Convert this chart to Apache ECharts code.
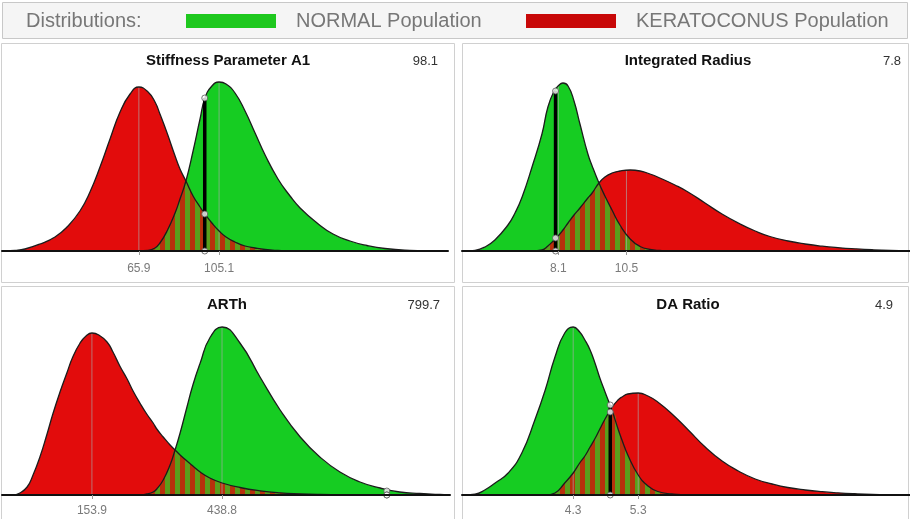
<!DOCTYPE html>
<html><head><meta charset="utf-8">
<script src="https://cdn.jsdelivr.net/npm/echarts@6/dist/echarts.min.js"></script>
<style>html,body{margin:0;padding:0;background:#fff;}#c{width:910px;height:519px;}</style>
</head><body><div id="c"></div>
<script>
// ---------- data ----------
const legendLabels = ['NORMAL Population', 'KERATOCONUS Population'];
const panelTitles = ['Stiffness Parameter A1', 'Integrated Radius', 'ARTh', 'DA Ratio'];
const patientValues = ['98.1', '7.8', '799.7', '4.9'];
const tickValues = [[65.9, 105.1], [8.1, 10.5], [153.9, 438.8], [4.3, 5.3]];
const meanHeights = [[164, 169], [165, 81], [162, 168], [168, 102]];
const cutoffX = [98.1, 8.0, 799.7, 4.87];
const cutoffNormal = [153, 160, 4, 90];
const cutoffKc = [37, 13, 0, 83];

// Stiffness Parameter A1
const a1X = [0.5, 5.4, 10.2, 17.6, 24.9, 30.8, 37.1, 42.0, 46.9, 51.8, 56.7, 61.6, 65.9, 70.4, 73.8, 76.2, 79.7, 83.6, 86.0, 88.9, 92.4, 95.8, 98.2, 101.6, 105.1, 108.5, 112.9, 117.8, 122.7, 127.6, 133.9, 139.8, 144.7, 153.0, 160.8, 169.1, 177.4, 186.2, 198.4, 213.1];
const a1Normal = [0, 0, 0, 0, 0, 0, 0, 0, 0, 0, 0, 0, 0, 0.5, 3, 8, 20, 38, 52, 70, 100, 132, 153, 165, 169, 167, 158, 140, 118, 96, 72, 55, 43, 28, 17, 10, 5.5, 2.5, 0.7, 0];
const a1Kc = [0, 0.5, 2, 7, 14, 24, 40, 59, 84, 112, 139, 157, 164, 159, 149, 137, 118, 95, 82, 70, 55, 44, 37, 28, 20, 14, 9, 5, 3, 1.5, 0.5, 0, 0, 0, 0, 0, 0, 0, 0, 0];

// Integrated Radius
const irX = [4.81, 5.16, 5.51, 5.86, 6.32, 6.57, 6.82, 7.17, 7.52, 7.73, 7.95, 8.09, 8.26, 8.44, 8.65, 8.86, 9.14, 9.29, 9.53, 9.74, 9.99, 10.27, 10.63, 10.98, 11.33, 11.68, 12.21, 12.67, 13.27, 13.87, 14.51, 15.04, 15.56, 16.20, 16.80, 17.40, 18.03, 18.56, 19.16, 19.80, 20.43];
const irNormal = [0, 0.7, 4, 11, 26, 38, 54, 84, 117, 144, 160, 165, 168, 165, 150, 127, 97, 85, 68, 55, 41, 26, 12, 4.5, 1.5, 0.5, 0, 0, 0, 0, 0, 0, 0, 0, 0, 0, 0, 0, 0, 0, 0];
const irKc = [0, 0, 0, 0, 0, 0, 0, 0, 1, 5, 11, 15, 21, 28, 36, 43, 53, 58, 68, 74, 78, 80, 81, 80, 77, 73, 66, 59, 48, 37, 27, 20, 14.5, 10, 7, 4.8, 3.2, 2.2, 1.3, 0.6, 0.2];

// ARTh
const arthX = [-36, -19, -4, 12, 25, 40, 55, 69, 84, 99, 112, 128, 141, 154, 169, 187, 200, 215, 231, 244, 259, 274, 288, 296, 310, 325, 336, 347, 362, 375, 391, 412, 439, 478, 522, 566, 610, 653, 697, 741, 785, 828, 872, 916, 934];
const arthNormal = [0, 0, 0, 0, 0, 0, 0, 0, 0, 0, 0, 0, 0, 0, 0, 0, 0, 0, 0, 0, 0, 1, 3, 6, 15, 30, 45, 62, 88, 110, 132, 157, 168, 152, 118, 85, 58, 38, 23, 13, 7, 3, 1.5, 0.5, 0.3];
const arthKc = [0, 0, 2, 8, 20, 38, 60, 82, 103, 122, 138, 152, 159, 162, 160, 153, 143, 129, 116, 104, 92, 81, 72, 66, 58, 50, 45, 40, 34, 29, 23, 17, 12, 7.5, 4.2, 2.2, 1.2, 0.6, 0.3, 0, 0, 0, 0, 0, 0];

// DA Ratio
const daX = [2.64, 2.79, 2.94, 3.10, 3.30, 3.51, 3.71, 3.87, 4.02, 4.17, 4.30, 4.40, 4.48, 4.56, 4.64, 4.71, 4.79, 4.90, 4.99, 5.05, 5.14, 5.30, 5.45, 5.60, 5.82, 6.07, 6.33, 6.59, 6.84, 7.10, 7.36, 7.60, 7.87, 8.13, 8.37, 8.63, 8.90, 9.17, 9.45];
const daNormal = [0, 0.8, 5, 12, 22, 42, 75, 105, 138, 162, 168, 163, 155, 145, 131, 117, 103, 84, 66, 55, 40, 20, 9, 3.5, 1, 0, 0, 0, 0, 0, 0, 0, 0, 0, 0, 0, 0, 0, 0];
const daKc = [0, 0, 0, 0, 0, 0, 0, 0, 2, 12, 22, 32, 39, 48, 57, 66, 76, 88, 95, 98, 101, 102, 99, 93, 81, 65, 48, 34, 24, 16, 11, 7.5, 5, 3.3, 2.2, 1.3, 0.6, 0.2, 0];

// ---------- layout / style ----------
const FONT = '"Liberation Sans", Arial, sans-serif';
const GREEN = '#16cc22';
const RED = '#e20c0c';
const panels = [
  {x: a1X, n: a1Normal, k: a1Kc, min: -1, max: 217, grid: {left: 2, top: 51, width: 446, height: 200}, lm: 12},
  {x: irX, n: irNormal, k: irKc, min: 4.7, max: 20.5, grid: {left: 462, top: 51, width: 448, height: 200}, lm: 12},
  {x: arthX, n: arthNormal, k: arthKc, min: -43, max: 938, grid: {left: 2, top: 295, width: 448, height: 200}, lm: 10},
  {x: daX, n: daNormal, k: daKc, min: 2.59, max: 9.48, grid: {left: 462, top: 295, width: 448, height: 200}, lm: 10}
];

// hatch pattern for the overlap region
const pc = document.createElement('canvas');
pc.width = 10; pc.height = 10;
const g2 = pc.getContext('2d');
g2.fillStyle = '#5a9e1c'; g2.fillRect(0, 0, 10, 10);
g2.fillStyle = '#b8300c'; g2.fillRect(0, 0, 5, 10);

const grids = [], xAxes = [], yAxes = [], series = [];
panels.forEach((p, i) => {
  grids.push(p.grid);
  xAxes.push({
    gridIndex: i, type: 'value', min: p.min, max: p.max, z: 10,
    axisLine: {show: true, onZero: false, lineStyle: {color: '#111', width: 2}},
    axisTick: {show: true, customValues: tickValues[i], length: 4, lineStyle: {color: '#999'}},
    axisLabel: {customValues: tickValues[i], formatter: v => Number(v).toFixed(1), color: '#7a7a7a', fontSize: 12, fontFamily: FONT, margin: p.lm},
    splitLine: {show: false}
  });
  yAxes.push({gridIndex: i, type: 'value', min: 0, max: 200, show: false});
  const base = {type: 'line', xAxisIndex: i, yAxisIndex: i, smooth: 0.5, symbol: 'none', silent: true};
  const nd = p.x.map((x, j) => [x, p.n[j]]);
  const kd = p.x.map((x, j) => [x, p.k[j]]);
  const od = p.x.map((x, j) => [x, Math.min(p.n[j], p.k[j])]);
  series.push(Object.assign({}, base, {data: kd, lineStyle: {width: 0}, areaStyle: {color: RED, opacity: 1}, z: 2}));
  series.push(Object.assign({}, base, {data: nd, lineStyle: {width: 0}, areaStyle: {color: GREEN, opacity: 1}, z: 2}));
  series.push(Object.assign({}, base, {data: od, lineStyle: {width: 0}, areaStyle: {color: {image: pc, repeat: 'repeat'}, opacity: 1}, z: 3}));
  tickValues[i].forEach((t, j) => {
    series.push({type: 'line', xAxisIndex: i, yAxisIndex: i, symbol: 'none', silent: true, z: 4,
      data: [[t, 0], [t, meanHeights[i][j]]], lineStyle: {color: 'rgba(170,170,170,0.65)', width: 1}});
  });
  series.push(Object.assign({}, base, {data: kd, lineStyle: {color: '#1c1c1c', width: 1.3}, z: 5}));
  series.push(Object.assign({}, base, {data: nd, lineStyle: {color: '#1c1c1c', width: 1.3}, z: 5}));
  series.push({type: 'line', xAxisIndex: i, yAxisIndex: i, symbol: 'none', silent: true, z: 6,
    data: [[cutoffX[i], 0], [cutoffX[i], Math.max(cutoffNormal[i], cutoffKc[i])]], lineStyle: {color: '#000', width: 3.5}});
  series.push({type: 'scatter', xAxisIndex: i, yAxisIndex: i, silent: true, z: 7, symbol: 'circle', symbolSize: 6,
    data: [[cutoffX[i], cutoffNormal[i]], [cutoffX[i], cutoffKc[i]], [cutoffX[i], 0]],
    itemStyle: {color: '#fff', borderColor: '#555', borderWidth: 1}});
});

const titlePos = [[228, 61], [688, 61], [227, 305], [688, 305]];
const valuePos = [[438, 61], [901, 61], [440, 305], [893, 305]];
const graphics = [
  {type: 'rect', shape: {x: 2.5, y: 2.5, width: 905, height: 36}, style: {fill: '#f5f5f5', stroke: '#c8c8c8', lineWidth: 1}, z: 0},
  {type: 'text', x: 26, y: 21, style: {text: 'Distributions:', fontSize: 20, fontFamily: FONT, fill: '#777', verticalAlign: 'middle'}},
  {type: 'rect', shape: {x: 186, y: 14, width: 90, height: 14}, style: {fill: '#1ec81e'}},
  {type: 'text', x: 296, y: 21, style: {text: legendLabels[0], fontSize: 20, fontFamily: FONT, fill: '#777', verticalAlign: 'middle'}},
  {type: 'rect', shape: {x: 526, y: 14, width: 90, height: 14}, style: {fill: '#c80808'}},
  {type: 'text', x: 636, y: 21, style: {text: legendLabels[1], fontSize: 20, fontFamily: FONT, fill: '#777', verticalAlign: 'middle'}},
  {type: 'rect', shape: {x: 1.5, y: 43.5, width: 453, height: 239}, style: {fill: 'none', stroke: '#d0d0d0', lineWidth: 1}},
  {type: 'rect', shape: {x: 462.5, y: 43.5, width: 446, height: 239}, style: {fill: 'none', stroke: '#d0d0d0', lineWidth: 1}},
  {type: 'rect', shape: {x: 1.5, y: 286.5, width: 453, height: 240}, style: {fill: 'none', stroke: '#d0d0d0', lineWidth: 1}},
  {type: 'rect', shape: {x: 462.5, y: 286.5, width: 446, height: 240}, style: {fill: 'none', stroke: '#d0d0d0', lineWidth: 1}}
];
panelTitles.forEach((t, i) => {
  graphics.push({type: 'text', x: titlePos[i][0], y: titlePos[i][1], z: 20,
    style: {text: t, fontSize: 15, fontWeight: 'bold', fontFamily: FONT, fill: '#111', align: 'center', verticalAlign: 'middle'}});
  graphics.push({type: 'text', x: valuePos[i][0], y: valuePos[i][1], z: 20,
    style: {text: patientValues[i], fontSize: 13, fontFamily: FONT, fill: '#333', align: 'right', verticalAlign: 'middle'}});
});

const chart = echarts.init(document.getElementById('c'), null, {renderer: 'canvas'});
chart.setOption({
  animation: false,
  backgroundColor: '#fff',
  grid: grids, xAxis: xAxes, yAxis: yAxes, series: series,
  graphic: graphics
});
</script>
</body></html>
